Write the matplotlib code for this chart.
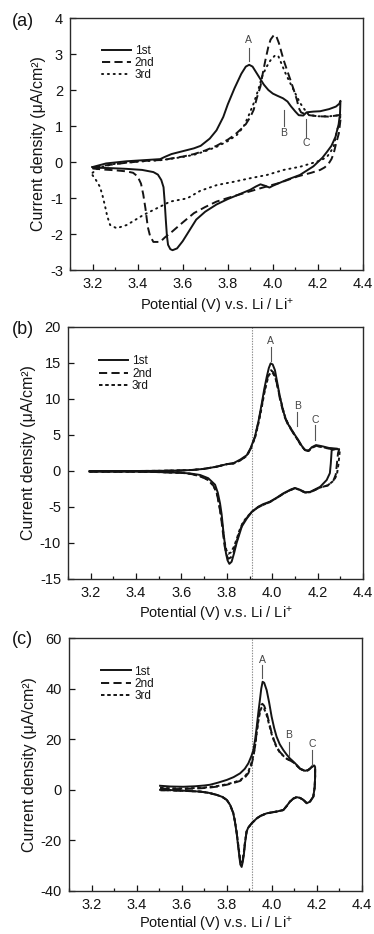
import matplotlib
matplotlib.use("Agg")
import matplotlib.pyplot as plt
from matplotlib.ticker import MultipleLocator

plt.rcParams['font.family'] = ['Liberation Sans', 'DejaVu Sans']
plt.rcParams['mathtext.fontset'] = 'custom'
plt.rcParams['mathtext.rm'] = 'Liberation Sans'
plt.rcParams['mathtext.it'] = 'Liberation Sans:italic'

# ---------------- data ----------------
cycle_labels = ["1st", "2nd", "3rd"]

# panel (a)
a1_x = [3.20, 3.26, 3.35, 3.45, 3.50, 3.52, 3.55, 3.60, 3.65, 3.68, 3.72, 3.75, 3.78, 3.80, 3.83, 3.86, 3.88, 3.895,
        3.91, 3.935, 3.96, 3.98, 4.00, 4.02, 4.045, 4.065, 4.08, 4.10, 4.115, 4.135, 4.15, 4.18, 4.21, 4.25, 4.28, 4.295, 4.30,
        4.298, 4.292, 4.278, 4.26, 4.24, 4.22, 4.18, 4.12, 4.06, 4.00, 3.985, 3.965, 3.945, 3.925, 3.90, 3.85, 3.80, 3.75,
        3.70, 3.66, 3.63, 3.60, 3.575, 3.555, 3.545, 3.535, 3.53, 3.525, 3.52, 3.515, 3.505, 3.49, 3.47, 3.42, 3.35, 3.28, 3.22, 3.20]
a1_y = [-0.14, -0.04, 0.02, 0.06, 0.08, 0.14, 0.22, 0.30, 0.38, 0.45, 0.65, 0.88, 1.25, 1.60, 2.05, 2.45, 2.65, 2.70,
        2.65, 2.40, 2.15, 2.00, 1.90, 1.84, 1.77, 1.68, 1.55, 1.40, 1.30, 1.29, 1.38, 1.40, 1.41, 1.47, 1.54, 1.62, 1.70,
        1.35, 1.05, 0.70, 0.45, 0.28, 0.12, -0.12, -0.36, -0.50, -0.66, -0.71, -0.66, -0.62, -0.68, -0.77, -0.90, -1.03, -1.18,
        -1.38, -1.60, -1.90, -2.20, -2.40, -2.45, -2.42, -2.30, -2.05, -1.60, -1.10, -0.70, -0.50, -0.35, -0.28, -0.22, -0.19, -0.17, -0.16, -0.14]

a2_x = [3.20, 3.25, 3.35, 3.45, 3.52, 3.55, 3.60, 3.65, 3.70, 3.75, 3.80, 3.83, 3.86, 3.88, 3.90, 3.915, 3.93, 3.945, 3.955,
        3.967, 3.98, 3.99, 4.005, 4.015, 4.027, 4.038, 4.048, 4.063, 4.078, 4.093, 4.107, 4.115, 4.125, 4.15, 4.20, 4.25, 4.30,
        4.30, 4.293, 4.28, 4.27, 4.26, 4.248, 4.23, 4.21, 4.17, 4.11, 4.03, 3.95, 3.88, 3.80, 3.75, 3.70, 3.65, 3.60, 3.55,
        3.52, 3.50, 3.47, 3.455, 3.445, 3.435, 3.425, 3.415, 3.40, 3.38, 3.35, 3.30, 3.25, 3.20]
a2_y = [-0.17, -0.10, -0.02, 0.04, 0.06, 0.10, 0.15, 0.22, 0.32, 0.45, 0.62, 0.75, 0.92, 1.05, 1.25, 1.45, 1.80, 2.10, 2.45,
        2.83, 3.20, 3.40, 3.53, 3.50, 3.30, 3.05, 2.83, 2.55, 2.28, 2.00, 1.72, 1.50, 1.38, 1.31, 1.27, 1.26, 1.31,
        1.17, 0.80, 0.50, 0.24, 0.08, -0.04, -0.15, -0.22, -0.30, -0.40, -0.58, -0.72, -0.85, -1.00, -1.10, -1.25, -1.42, -1.68, -1.95,
        -2.10, -2.22, -2.22, -2.05, -1.80, -1.30, -0.90, -0.60, -0.40, -0.30, -0.26, -0.23, -0.21, -0.18]

a3_x = [3.20, 3.23, 3.30, 3.40, 3.50, 3.55, 3.60, 3.65, 3.70, 3.75, 3.80, 3.84, 3.87, 3.89, 3.915, 3.935, 3.952, 3.97, 3.989,
        4.011, 4.025, 4.041, 4.055, 4.07, 4.09, 4.107, 4.122, 4.137, 4.159, 4.20, 4.25, 4.30,
        4.295, 4.285, 4.27, 4.255, 4.241, 4.22, 4.196, 4.122, 4.048, 3.974, 3.90, 3.826, 3.752, 3.678, 3.62, 3.544, 3.50,
        3.426, 3.352, 3.307, 3.278, 3.265, 3.256, 3.245, 3.233, 3.215, 3.196]
a3_y = [-0.30, -0.15, -0.05, 0.01, 0.05, 0.09, 0.14, 0.20, 0.30, 0.42, 0.58, 0.75, 0.98, 1.25, 1.63, 2.00, 2.37, 2.62, 2.82,
        2.97, 2.93, 2.69, 2.48, 2.28, 2.03, 1.81, 1.63, 1.49, 1.31, 1.27, 1.27, 1.30,
        1.05, 0.89, 0.43, 0.27, 0.15, 0.07, 0.01, -0.13, -0.22, -0.36, -0.45, -0.55, -0.64, -0.80, -1.01, -1.10, -1.24,
        -1.47, -1.75, -1.84, -1.75, -1.50, -1.24, -0.95, -0.69, -0.50, -0.33]

# panel (b)
b1_x = [3.195, 3.30, 3.40, 3.50, 3.60, 3.65, 3.70, 3.755, 3.80, 3.83, 3.86, 3.888, 3.905, 3.924, 3.94, 3.954, 3.965, 3.976,
        3.985, 3.993, 4.002, 4.012, 4.022, 4.034, 4.045, 4.056, 4.07, 4.086, 4.10, 4.115, 4.13, 4.145, 4.16, 4.174, 4.193,
        4.21, 4.225, 4.25, 4.287,
        4.262, 4.258, 4.254, 4.24, 4.211, 4.167, 4.145, 4.122, 4.10, 4.08, 4.049, 4.02, 3.99, 3.96, 3.939, 3.91, 3.888,
        3.866, 3.855, 3.843, 3.832, 3.821, 3.811, 3.803, 3.796, 3.79, 3.784, 3.777, 3.77, 3.76, 3.748, 3.718, 3.682,
        3.64, 3.60, 3.50, 3.40, 3.30, 3.195]
b1_y = [-0.05, -0.03, 0.0, 0.02, 0.08, 0.15, 0.30, 0.60, 0.95, 1.10, 1.60, 2.20, 3.20, 4.80, 7.00, 9.40, 11.4, 13.1,
        14.3, 14.95, 14.8, 14.0, 12.3, 10.3, 8.8, 7.5, 6.5, 5.7, 5.0, 4.3, 3.5, 2.9, 2.8, 3.3, 3.6,
        3.5, 3.4, 3.2, 3.1,
        2.9, 1.0, -0.3, -1.25, -2.2, -2.9, -2.95, -2.6, -2.35, -2.6, -3.1, -3.7, -4.26, -4.6, -4.96, -5.65, -6.6,
        -7.7, -8.8, -10.0, -11.4, -12.6, -12.9, -12.4, -11.4, -9.8, -8.2, -6.0, -4.5, -3.0, -1.9, -1.0, -0.55,
        -0.35, -0.25, -0.15, -0.10, -0.08, -0.05]

b2_x = [3.195, 3.30, 3.40, 3.50, 3.60, 3.65, 3.70, 3.755, 3.80, 3.83, 3.86, 3.888, 3.905, 3.924, 3.94, 3.954, 3.965, 3.976,
        3.985, 3.995, 4.005, 4.015, 4.025, 4.034, 4.045, 4.056, 4.07, 4.086, 4.10, 4.115, 4.13, 4.145, 4.16, 4.174, 4.193,
        4.225, 4.25, 4.295,
        4.29, 4.285, 4.28, 4.27, 4.245, 4.211, 4.167, 4.145, 4.122, 4.10, 4.08, 4.049, 4.02, 3.99, 3.939, 3.91, 3.888,
        3.87, 3.855, 3.843, 3.83, 3.818, 3.806, 3.798, 3.79, 3.782, 3.775, 3.765, 3.755, 3.74, 3.715, 3.68,
        3.64, 3.60, 3.50, 3.40, 3.30, 3.195]
b2_y = [-0.05, -0.03, 0.0, 0.02, 0.08, 0.15, 0.30, 0.60, 0.95, 1.05, 1.50, 2.10, 3.10, 4.70, 6.90, 9.10, 11.0, 12.6,
        13.6, 14.0, 13.7, 12.9, 11.5, 10.0, 8.6, 7.4, 6.4, 5.6, 4.9, 4.2, 3.4, 2.9, 2.8, 3.2, 3.5,
        3.3, 3.1, 3.0,
        2.5, 1.0, -0.5, -1.3, -2.0, -2.3, -2.95, -3.0, -2.65, -2.4, -2.65, -3.15, -3.75, -4.3, -5.0, -5.7, -6.5,
        -7.3, -8.5, -9.8, -11.2, -12.0, -12.2, -11.6, -10.4, -8.4, -6.5, -4.5, -3.0, -2.0, -1.2, -0.7,
        -0.4, -0.25, -0.15, -0.10, -0.08, -0.05]

b3_x = [3.195, 3.30, 3.40, 3.50, 3.60, 3.65, 3.70, 3.755, 3.80, 3.83, 3.86, 3.888, 3.905, 3.924, 3.94, 3.954, 3.965, 3.976,
        3.985, 3.995, 4.005, 4.015, 4.025, 4.036, 4.047, 4.058, 4.072, 4.088, 4.10, 4.115, 4.13, 4.145, 4.16, 4.174, 4.193,
        4.225, 4.25, 4.30,
        4.297, 4.292, 4.285, 4.272, 4.245, 4.211, 4.167, 4.145, 4.122, 4.10, 4.08, 4.049, 4.02, 3.99, 3.939, 3.91, 3.888,
        3.87, 3.855, 3.843, 3.83, 3.818, 3.806, 3.798, 3.79, 3.782, 3.775, 3.765, 3.755, 3.74, 3.715, 3.68,
        3.64, 3.60, 3.50, 3.40, 3.30, 3.195]
b3_y = [-0.05, -0.03, 0.0, 0.02, 0.08, 0.15, 0.30, 0.60, 0.95, 1.05, 1.50, 2.10, 3.10, 4.60, 6.70, 8.90, 10.8, 12.3,
        13.3, 13.7, 13.5, 12.8, 11.5, 10.0, 8.6, 7.4, 6.4, 5.6, 4.9, 4.2, 3.4, 2.9, 2.8, 3.2, 3.5,
        3.3, 3.1, 3.0,
        2.6, 1.0, -0.5, -1.3, -2.0, -2.3, -2.95, -3.0, -2.65, -2.4, -2.65, -3.15, -3.75, -4.3, -5.0, -5.7, -6.4,
        -7.2, -8.3, -9.5, -10.6, -11.3, -11.5, -11.0, -9.9, -8.0, -6.3, -4.5, -3.0, -2.0, -1.2, -0.7,
        -0.4, -0.25, -0.15, -0.10, -0.08, -0.05]

# panel (c)
c1_x = [3.504, 3.55, 3.607, 3.66, 3.70, 3.726, 3.76, 3.80, 3.83, 3.859, 3.88, 3.896, 3.91, 3.918, 3.926, 3.933, 3.94, 3.947,
        3.953, 3.959, 3.966, 3.977, 3.988, 3.999, 4.01, 4.021, 4.035, 4.051, 4.065, 4.08, 4.09, 4.103, 4.125, 4.147, 4.16,
        4.169, 4.18, 4.188, 4.192,
        4.192, 4.19, 4.184, 4.169, 4.155, 4.14, 4.125, 4.11, 4.095, 4.08, 4.065, 4.051, 4.021, 3.977, 3.95, 3.933, 3.911,
        3.895, 3.888, 3.881, 3.876, 3.871, 3.866, 3.86, 3.856, 3.85, 3.844, 3.836, 3.829, 3.815, 3.80, 3.78, 3.755, 3.72,
        3.681, 3.607, 3.55, 3.504]
c1_y = [1.6, 1.3, 1.2, 1.4, 1.7, 2.0, 2.8, 3.9, 5.0, 6.5, 8.3, 10.5, 13.5, 15.7, 20.0, 24.9, 30.5, 35.5,
        40.0, 42.7, 42.3, 39.4, 34.5, 28.9, 24.5, 21.0, 18.0, 15.7, 14.0, 12.4, 11.6, 10.5, 8.4, 7.5, 7.8,
        8.4, 9.4, 9.6, 9.0,
        5.2, 1.0, -2.7, -4.7, -5.3, -4.0, -3.2, -2.9, -3.5, -4.7, -6.5, -8.0, -8.6, -9.3, -10.3, -11.3, -13.2,
        -15.0, -16.5, -21.1, -25.5, -28.5, -30.5, -29.5, -26.4, -22.0, -17.2, -12.5, -9.3, -6.0, -4.0, -2.8, -2.0, -1.2,
        -0.7, -0.35, -0.1, 0.0]

c2_x = [3.504, 3.55, 3.607, 3.66, 3.70, 3.726, 3.76, 3.80, 3.83, 3.859, 3.88, 3.896, 3.91, 3.918, 3.926, 3.933, 3.94, 3.947,
        3.953, 3.958, 3.966, 3.977, 3.988, 3.999, 4.01, 4.021, 4.035, 4.051, 4.065, 4.08, 4.09, 4.103, 4.125, 4.147, 4.16,
        4.169, 4.18, 4.188, 4.192,
        4.192, 4.19, 4.184, 4.169, 4.155, 4.14, 4.125, 4.11, 4.095, 4.08, 4.065, 4.051, 4.021, 3.977, 3.95, 3.933, 3.911,
        3.895, 3.888, 3.881, 3.876, 3.871, 3.866, 3.86, 3.856, 3.85, 3.844, 3.836, 3.829, 3.815, 3.80, 3.78, 3.755, 3.72,
        3.681, 3.607, 3.55, 3.504]
c2_y = [0.6, 0.3, 0.3, 0.5, 0.7, 0.9, 1.3, 2.0, 2.7, 3.5, 4.8, 6.6, 10.0, 13.0, 17.5, 23.0, 28.0, 31.5,
        33.5, 34.0, 33.2, 30.5, 26.5, 22.5, 19.5, 17.0, 15.0, 13.5, 12.4, 11.6, 11.2, 10.3, 8.3, 7.4, 7.7,
        8.3, 9.2, 9.5, 8.8,
        5.0, 1.0, -2.7, -4.7, -5.3, -4.0, -3.2, -2.9, -3.5, -4.7, -6.5, -8.0, -8.6, -9.3, -10.3, -11.3, -13.2,
        -15.0, -16.5, -20.8, -25.0, -27.8, -29.5, -28.7, -25.8, -21.5, -17.0, -12.4, -9.2, -6.0, -4.0, -2.8, -2.0, -1.2,
        -0.7, -0.4, -0.2, -0.2]

c3_x = list(c2_x)
c3_y = [0.9, 0.6, 0.5, 0.7, 0.9, 1.1, 1.5, 2.2, 2.9, 3.8, 5.2, 7.2, 10.8, 13.5, 17.5, 22.5, 27.0, 30.5,
        32.3, 32.8, 32.0, 29.5, 25.8, 22.0, 19.2, 16.8, 14.8, 13.4, 12.3, 11.6, 11.2, 10.3, 8.3, 7.4, 7.7,
        8.3, 9.2, 9.5, 8.8,
        5.0, 1.0, -2.7, -4.7, -5.3, -4.0, -3.2, -2.9, -3.5, -4.7, -6.5, -8.0, -8.6, -9.3, -10.3, -11.3, -13.2,
        -15.0, -16.5, -20.5, -24.5, -27.2, -28.8, -28.0, -25.2, -21.0, -16.8, -12.3, -9.2, -6.0, -4.0, -2.8, -2.0, -1.2,
        -0.7, -0.4, -0.2, -0.1]

# axes settings
panel_letters = ["(a)", "(b)", "(c)"]
y_limits = [(-3, 4), (-15, 20), (-40, 60)]
y_steps = [1, 5, 20]
x_limits = (3.1, 4.4)
ref_potential = 3.91

# peak annotations: (label, x, text_y, line_top, line_bottom)
ann_a = [("A", 3.893, 3.38, 3.17, 2.80), ("B", 4.048, 0.80, 1.45, 1.00), ("C", 4.148, 0.53, 1.20, 0.70)]
ann_b = [("A", 3.993, 18.0, 17.2, 15.3), ("B", 4.111, 9.0, 8.2, 6.3), ("C", 4.189, 7.1, 6.4, 4.3)]
ann_c = [("A", 3.958, 51.5, 49.3, 44.0), ("B", 4.076, 21.5, 19.0, 13.3), ("C", 4.179, 18.3, 15.7, 10.0)]

# ---------------- figure ----------------
W, H = 374, 934
fig = plt.figure(figsize=(W / 100, H / 100), dpi=100)

# pixel boxes: left, right, top, bottom
boxes = [(70, 363, 18, 270), (68, 363, 327, 579), (69, 362, 638, 891)]
axes = []
for (l, r, t, b) in boxes:
    ax = fig.add_axes([l / W, 1 - b / H, (r - l) / W, (b - t) / H])
    axes.append(ax)

ink = "#141414"
lw = 1.4
dash_style = (0, (4.2, 2.2))
dot_a = (0, (0.6, 2.4))
dot_bc = (0, (1.8, 1.4))

series = [
    [(a1_x, a1_y), (a2_x, a2_y), (a3_x, a3_y)],
    [(b1_x, b1_y), (b2_x, b2_y), (b3_x, b3_y)],
    [(c1_x, c1_y), (c2_x, c2_y), (c3_x, c3_y)],
]
anns = [ann_a, ann_b, ann_c]
legend_anchor = [(0.108, 0.893), (0.105, 0.887), (0.110, 0.891)]
xlabel_pads = [4, 4, 2]

for i, ax in enumerate(axes):
    (x1, y1), (x2, y2), (x3, y3) = series[i]
    dstyle = dot_a if i == 0 else dot_bc
    cap = 'round' if i == 0 else 'butt'
    if i > 0:
        ax.axvline(ref_potential, color="#8a8a8a", lw=0.8, ls=(0, (1.2, 1.2)), zorder=1)
    h1, = ax.plot(x1, y1, color=ink, lw=lw, ls='-', label=cycle_labels[0], zorder=4)
    h2, = ax.plot(x2, y2, color=ink, lw=lw, ls=dash_style, label=cycle_labels[1], zorder=3)
    h3, = ax.plot(x3, y3, color=ink, lw=lw, ls=dstyle, dash_capstyle=cap, label=cycle_labels[2], zorder=2)

    ax.set_xlim(*x_limits)
    ax.set_ylim(*y_limits[i])
    ax.xaxis.set_major_locator(MultipleLocator(0.2))
    ax.xaxis.set_minor_locator(MultipleLocator(0.1))
    ax.yaxis.set_major_locator(MultipleLocator(y_steps[i]))
    ax.xaxis.set_major_formatter(plt.FuncFormatter(lambda v, p: f"{v:.1f}"))
    ax.yaxis.set_major_formatter(plt.FuncFormatter(lambda v, p: f"{v:g}"))
    ax.tick_params(which='both', direction='in', top=False, right=False, colors=ink,
                   labelsize=10.5, pad=5)
    ax.tick_params(which='major', length=4.5, width=0.9)
    ax.tick_params(which='minor', length=2.5, width=0.9)
    for sp in ax.spines.values():
        sp.set_linewidth(1.0)
        sp.set_color("#2a2a2a")

    ax.set_ylabel("Current density (μA/cm²)", fontsize=11.5, color=ink, labelpad=3)
    ax.set_xlabel("Potential (V) v.s. Li / Li$^{+}$", fontsize=10.5, color=ink, labelpad=xlabel_pads[i])

    leg = ax.legend(handles=[h1, h2, h3], loc='upper left', bbox_to_anchor=legend_anchor[i],
                    frameon=False, fontsize=8.5, handlelength=2.5, handletextpad=0.3,
                    labelspacing=0.02, borderpad=0, borderaxespad=0)
    for t in leg.get_texts():
        t.set_color(ink)

    for (lab, xa, ty, l0, l1) in anns[i]:
        ax.plot([xa, xa], [l0, l1], color="#555555", lw=0.8, zorder=5)
        ax.text(xa, ty, lab, ha='center', va='center', fontsize=7.5, color="#444444")

# panel letters
letter_pos = [(12, 22), (12, 329), (12, 640)]
for lab, (px, py) in zip(panel_letters, letter_pos):
    fig.text(px / W, 1 - py / H, lab, fontsize=13, ha='left', va='center', color=ink)

fig.savefig("out.png", dpi=100)
